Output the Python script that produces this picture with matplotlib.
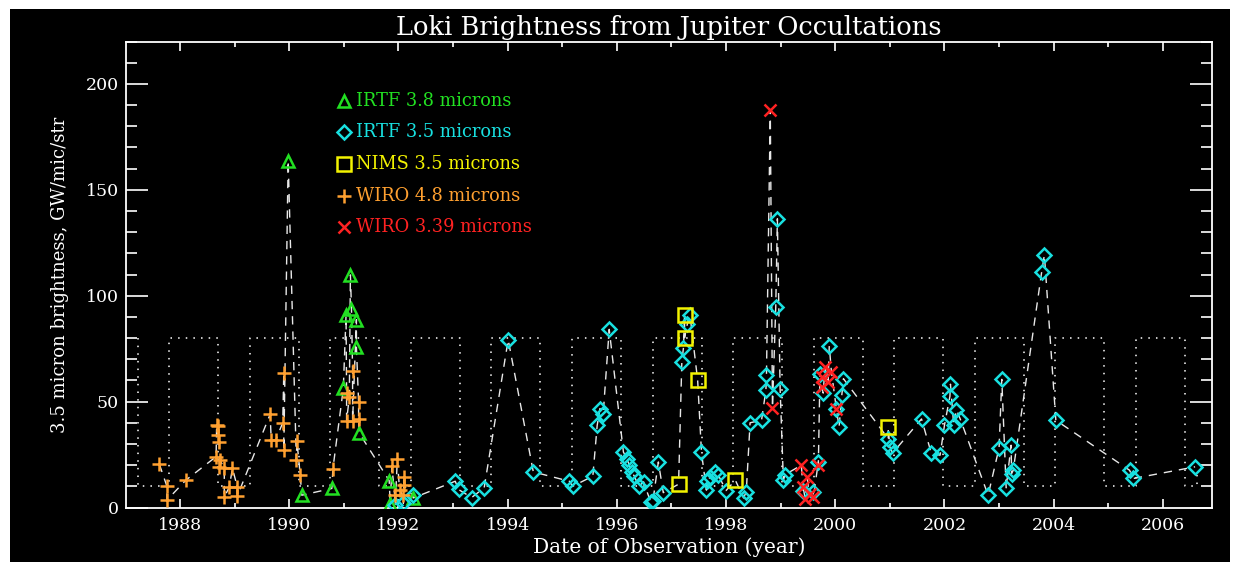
import matplotlib
matplotlib.use("Agg")
import matplotlib.pyplot as plt
from matplotlib.patches import Rectangle
from matplotlib.ticker import MultipleLocator
import numpy as np

# ---------------- data ----------------
irtf38_year = [1989.98, 1990.23, 1990.78, 1990.99, 1991.04, 1991.12, 1991.14,
               1991.23, 1991.23, 1991.28, 1991.83, 1991.85, 1992.27]
irtf38_val = [163.8, 5.8, 9.0, 56.2, 90.7, 109.8, 93.5, 88.7, 75.8, 35.2,
              12.7, 1.5, 4.5]

irtf35_year = [1991.94, 1992.09, 1992.26, 1993.04, 1993.10, 1993.34, 1993.57,
               1994.01, 1994.47, 1995.13, 1995.19, 1995.56, 1995.64, 1995.69,
               1995.75, 1995.86, 1996.12, 1996.18, 1996.23, 1996.27, 1996.32,
               1996.40, 1996.49, 1996.62, 1996.66, 1996.76, 1996.85, 1997.19,
               1997.22, 1997.29, 1997.34, 1997.55, 1997.64, 1997.66, 1997.71,
               1997.80, 1997.86, 1998.00, 1998.32, 1998.37, 1998.44, 1998.65,
               1998.73, 1998.74, 1998.91, 1998.94, 1998.99, 1999.05, 1999.08,
               1999.41, 1999.60, 1999.69, 1999.72, 1999.78, 1999.89, 2000.02,
               2000.07, 2000.12, 2000.15, 2000.97, 2001.00, 2001.05, 2001.58,
               2001.76, 2001.92, 2002.00, 2002.10, 2002.11, 2002.17, 2002.22,
               2002.29, 2002.80, 2003.00, 2003.05, 2003.13, 2003.22, 2003.23,
               2003.26, 2003.78, 2003.83, 2004.04, 2005.39, 2005.46, 2006.59]
irtf35_val = [1.0, 1.9, 5.8, 12.4, 8.5, 4.7, 9.3,
              79.2, 16.8, 12.4, 10.0, 14.8, 38.8, 46.7,
              44.3, 84.1, 26.2, 23.1, 20.0, 16.8, 14.8,
              10.0, 12.1, 2.5, 3.0, 21.5, 7.0, 68.7,
              75.5, 86.5, 90.7, 26.0, 8.2, 12.5, 14.4,
              16.8, 15.2, 8.0, 4.5, 7.4, 40.0, 41.2,
              55.5, 62.4, 94.6, 136.3, 56.1, 12.9, 15.5,
              7.8, 7.4, 21.5, 63.0, 54.0, 76.3, 46.7,
              38.0, 53.0, 60.8, 32.5, 28.5, 25.7, 41.8,
              25.5, 24.7, 38.8, 52.5, 58.2, 38.8, 46.2,
              41.7, 5.8, 28.1, 60.5, 9.3, 29.4, 16.0,
              17.6, 111.1, 119.3, 41.2, 17.6, 13.7, 19.2]

nims_year = [1997.13, 1997.24, 1997.24, 1997.48, 1998.17, 2000.97]
nims_val = [11.0, 91.0, 80.2, 60.0, 12.9, 38.0]

wiro48_year = [1987.62, 1987.76, 1987.76, 1988.11, 1988.67, 1988.70, 1988.69,
               1988.72, 1988.66, 1988.73, 1988.72, 1988.81, 1988.96, 1988.90,
               1989.05, 1988.81, 1989.05, 1989.65, 1989.88, 1989.67, 1989.75,
               1989.90, 1989.90, 1990.14, 1990.13, 1990.20, 1990.80, 1991.05,
               1991.10, 1991.16, 1991.27, 1991.05, 1991.16, 1991.27, 1991.98,
               1991.88, 1992.10, 1992.10, 1992.02, 1991.93, 1992.08]
wiro48_val = [20.5, 10.0, 3.5, 13.0, 38.8, 38.3, 34.0,
              31.0, 24.0, 22.5, 19.0, 18.5, 18.5, 9.5,
              9.5, 5.0, 5.5, 44.0, 40.0, 31.7, 31.7,
              63.5, 27.0, 31.5, 22.5, 15.5, 18.4, 54.0,
              52.0, 64.4, 49.8, 41.0, 41.0, 42.0, 23.0,
              19.5, 14.6, 10.5, 8.2, 5.8, 5.8]

wiro339_year = [1998.81, 1998.85, 1999.38, 1999.41, 1999.45, 1999.48, 1999.54,
                1999.60, 1999.69, 1999.75, 1999.75, 1999.81, 1999.87, 1999.93,
                2000.02]
wiro339_val = [187.8, 47.2, 20.0, 9.7, 4.2, 14.4, 6.6,
               5.0, 20.0, 61.6, 56.9, 66.3, 59.2, 64.0,
               46.7]

# dotted observing-season square wave (levels and transition years)
wave_low, wave_high = 10, 80
wave_start = 1987.23
wave_rise = [1987.80, 1989.275, 1990.751, 1992.225, 1993.701, 1995.178,
             1996.654, 1998.130, 1999.604, 2001.081, 2002.557, 2004.033,
             2005.509]
wave_fall = [1988.696, 1990.172, 1991.648, 1993.123, 1994.599, 1996.075,
             1997.551, 1999.027, 2000.502, 2001.978, 2003.454, 2004.930,
             2006.407]
wave_end = 2006.63

legend_labels = ["IRTF 3.8 microns", "IRTF 3.5 microns", "NIMS 3.5 microns",
                 "WIRO 4.8 microns", "WIRO 3.39 microns"]

# ---------------- styling ----------------
GREEN = "#22e022"
CYAN = "#18e0e0"
YELLOW = "#f2f200"
ORANGE = "#ffa030"
RED = "#ff2222"
FONT = "DejaVu Serif"

fig = plt.figure(figsize=(12.38, 5.69), dpi=100, facecolor="white")
fig.patches.append(Rectangle((10 / 1238, 7 / 569), 1220 / 1238, 553 / 569,
                             transform=fig.transFigure, facecolor="black",
                             edgecolor="none", zorder=-10))
ax = fig.add_axes([126 / 1238, 61.5 / 569, 1086 / 1238, 466 / 569])
ax.set_facecolor("black")

# square wave
wx = [wave_start, wave_start]
wy = [wave_high, wave_low]
for r, f in zip(wave_rise, wave_fall):
    wx += [r, r, f, f]
    wy += [wave_low, wave_high, wave_high, wave_low]
wx += [wave_end, wave_end]
wy += [wave_low, wave_low + 8]
ax.plot(wx, wy, color="white", lw=1.1, linestyle=(0, (1, 4)), zorder=1)

# connecting dashed line in time order
all_year = np.array(irtf38_year + irtf35_year + nims_year + wiro48_year + wiro339_year)
all_val = np.array(irtf38_val + irtf35_val + nims_val + wiro48_val + wiro339_val)
order = np.argsort(all_year, kind="stable")
ax.plot(all_year[order], all_val[order], color="#e8e8e8", lw=1.0,
        linestyle=(0, (6, 5)), zorder=2)

mk = dict(linestyle="none", markerfacecolor="none", zorder=3)
series = [
    (irtf38_year, irtf38_val, "^", GREEN, 9, 1.8),
    (irtf35_year, irtf35_val, "D", CYAN, 7.5, 1.8),
    (nims_year, nims_val, "s", YELLOW, 10, 1.8),
    (wiro48_year, wiro48_val, "+", ORANGE, 10.5, 1.8),
    (wiro339_year, wiro339_val, "x", RED, 8.5, 1.8),
]
for xs, ys, m, c, ms, mew in series:
    ax.plot(xs, ys, marker=m, color=c, markeredgecolor=c, markersize=ms,
            markeredgewidth=mew, **mk)

# manual legend
leg_y = [0.873, 0.806, 0.737, 0.668, 0.601]
for (xs, ys, m, c, ms, mew), lab, yy in zip(series, legend_labels, leg_y):
    ax.plot([0.2007], [yy], marker=m, color=c, markeredgecolor=c,
            markersize=ms, markeredgewidth=mew, transform=ax.transAxes,
            clip_on=False, **mk)
    ax.text(0.2115, yy, lab, color=c, fontsize=12.8, family=FONT,
            transform=ax.transAxes, va="center", ha="left")

ax.set_xlim(1987.01, 2006.9)
ax.set_ylim(0, 220)
ax.xaxis.set_major_locator(MultipleLocator(2))
ax.xaxis.set_minor_locator(MultipleLocator(1))
ax.yaxis.set_major_locator(MultipleLocator(50))
ax.yaxis.set_minor_locator(MultipleLocator(10))
ax.set_xticks(np.arange(1988, 2007, 2))
ax.set_xticklabels([str(v) for v in range(1988, 2007, 2)])

for sp in ax.spines.values():
    sp.set_color("white")
    sp.set_linewidth(1.3)
ax.tick_params(axis="both", which="both", direction="in", colors="white",
               top=True, right=True, width=1.2)
ax.tick_params(axis="x", which="major", length=6.8, pad=7)
ax.tick_params(axis="x", which="minor", length=3.4)
ax.tick_params(axis="y", which="major", length=15.8, pad=5)
ax.tick_params(axis="y", which="minor", length=7.9)
for lab in ax.get_xticklabels() + ax.get_yticklabels():
    lab.set_fontfamily(FONT)
    lab.set_fontsize(12.5)
    lab.set_color("white")

ax.set_xlabel("Date of Observation (year)", color="white", fontsize=14.5,
              family=FONT, labelpad=2)
ax.set_ylabel("3.5 micron brightness, GW/mic/str", color="white", fontsize=13,
              family=FONT, labelpad=12)
ax.set_title("Loki Brightness from Jupiter Occultations", color="white",
             fontsize=18.5, family=FONT, pad=5)

fig.savefig("out.png", dpi=100, facecolor="white")
